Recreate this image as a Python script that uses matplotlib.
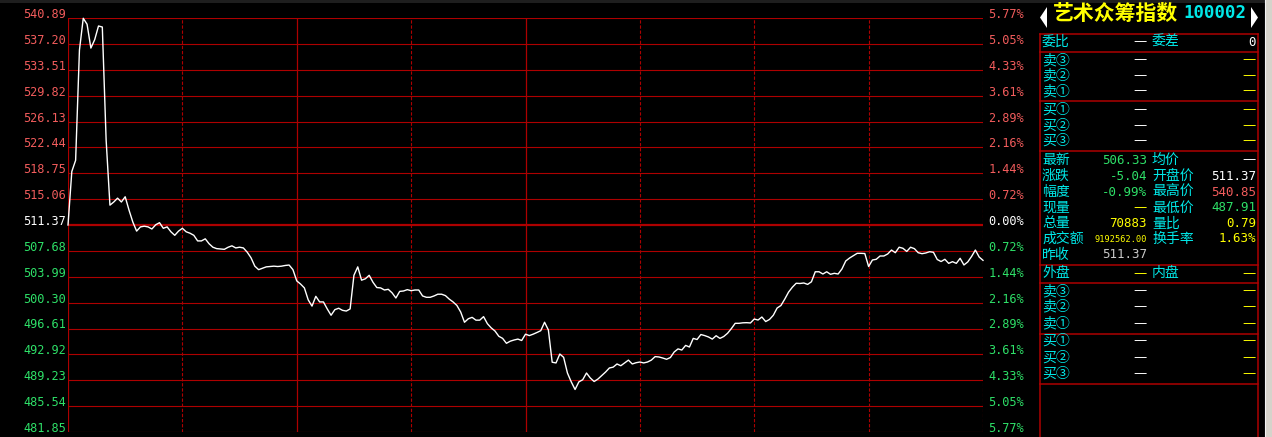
import matplotlib
matplotlib.use("Agg")
import matplotlib.pyplot as plt
from matplotlib.patches import Polygon, Rectangle

# ---- data ----
prev_close = 511.37
price_ticks = [540.89, 537.20, 533.51, 529.82, 526.13, 522.44, 518.75, 515.06, 511.37,
               507.68, 503.99, 500.30, 496.61, 492.92, 489.23, 485.54, 481.85]
pct_labels = ["5.77%", "5.05%", "4.33%", "3.61%", "2.89%", "2.16%", "1.44%", "0.72%", "0.00%",
              "0.72%", "1.44%", "2.16%", "2.89%", "3.61%", "4.33%", "5.05%", "5.77%"]

# one value per minute, 09:30 .. 11:30 | 13:00 .. 15:00 (241 points)
prices = [
    511.37, 519.00, 520.60, 536.30, 540.85, 540.00, 536.60, 537.80, 539.75, 539.60, 523.50,
    514.20, 514.65, 515.20, 514.65, 515.40, 513.50, 511.80, 510.50, 511.10, 511.20,
    511.10, 510.80, 511.40, 511.70, 510.90, 511.10, 510.40, 509.90, 510.50, 510.90,
    510.40, 510.20, 509.90, 509.10, 509.10, 509.40, 508.70, 508.20, 508.00, 507.95,
    507.90, 508.20, 508.40, 508.10, 508.20, 508.10, 507.50, 506.70, 505.50, 505.00,
    505.20, 505.40, 505.45, 505.50, 505.45, 505.50, 505.60, 505.66, 505.00, 503.40,
    502.95, 502.40, 500.70, 499.80, 501.20, 500.40, 500.40, 499.40, 498.50, 499.30,
    499.50, 499.20, 499.10, 499.40, 504.20, 505.40, 503.50, 503.70, 504.20, 503.20,
    502.45, 502.40, 502.10, 502.20, 501.70, 500.96, 501.90, 501.96, 502.15, 502.00,
    502.10, 502.10, 501.25, 501.06, 501.06, 501.25, 501.50, 501.50, 501.30, 500.80,
    500.40, 499.90, 498.96, 497.50, 498.00, 498.20, 497.80, 497.80, 498.30, 497.30,
    496.70, 496.25, 495.50, 495.20, 494.50, 494.80, 494.97, 495.10, 494.90, 495.80,
    495.60, 495.80, 496.04, 496.30, 497.50, 496.40, 491.80, 491.70, 492.97, 492.50,
    490.26, 489.00, 487.91, 489.00, 489.30, 490.26, 489.55, 489.05, 489.40, 489.90,
    490.40, 490.98, 491.10, 491.55, 491.30, 491.70, 492.10, 491.55, 491.73, 491.83,
    491.70, 491.83, 492.10, 492.60, 492.55, 492.40, 492.22, 492.47, 493.26, 493.70,
    493.54, 494.20, 493.97, 495.20, 495.04, 495.75, 495.60, 495.40, 495.10, 495.58,
    495.20, 495.47, 495.93, 496.60, 497.35, 497.35, 497.42, 497.44, 497.40, 497.96,
    497.82, 498.25, 497.60, 497.90, 498.50, 499.53, 499.89, 500.80, 501.80, 502.50,
    503.06, 503.03, 503.10, 502.90, 503.27, 504.70, 504.70, 504.38, 504.70, 504.34,
    504.48, 504.38, 505.10, 506.24, 506.66, 507.00, 507.33, 507.33, 507.30, 505.45,
    506.38, 506.48, 506.95, 506.95, 507.24, 507.80, 507.42, 508.20, 508.05, 507.60,
    508.20, 508.00, 507.42, 507.28, 507.38, 507.56, 507.48, 506.45, 506.16, 506.48,
    505.90, 506.14, 505.90, 506.62, 505.67, 506.10, 506.88, 507.80, 506.80, 506.33,
]
minutes = list(range(len(prices)))
solid_minutes = [60, 120]
dashed_minutes = [30, 90, 150, 180, 210, 240]

title_name = "艺术众筹指数"
title_code = "100002"
sell_labels = ["卖③", "卖②", "卖①"]
buy_labels = ["买①", "买②", "买③"]
quote_left_labels = ["最新", "涨跌", "幅度", "现量", "总量", "成交额", "昨收"]
quote_left_values = ["506.33", "-5.04", "-0.99%", "—", "70883", "9192562.00", "511.37"]
quote_right_labels = ["均价", "开盘价", "最高价", "最低价", "量比", "换手率", ""]
quote_right_values = ["—", "511.37", "540.85", "487.91", "0.79", "1.63%", ""]

# ---- colours ----
RED = "#ad0000"
UP = "#f25c5c"
DOWN = "#2ee068"
CYAN = "#00e8e8"
YELLOW = "#ffff00"
MONO = "DejaVu Sans Mono"
CJK = ["Noto Sans CJK SC", "DejaVu Sans"]

W, H = 1272, 437
fig = plt.figure(figsize=(W / 100, H / 100), dpi=100, facecolor="black")

# overlay in pixel coordinates for the side panel
ov = fig.add_axes([0, 0, 1, 1], zorder=0)
ov.set_xlim(0, W)
ov.set_ylim(H, 0)
ov.axis("off")

ov.add_patch(Rectangle((0, 0), W, 3, color="#1e1e1e", lw=0))
ov.add_patch(Rectangle((1265, 0), 7, H, color="#d6d3cb", lw=0))
ov.plot([1264.5, 1264.5], [0, H], color="#f4f4f4", lw=0.8)

# ---- main chart ----
x0, x1, y0, y1 = 68, 983, 18, 432
ax = fig.add_axes([x0 / W, 1 - y1 / H, (x1 - x0) / W, (y1 - y0) / H], zorder=1)
ax.set_facecolor("black")
ax.set_xlim(0, 240)
ax.set_ylim(price_ticks[-1], price_ticks[0])
for s in ax.spines.values():
    s.set_visible(False)
ax.set_xticks([])
ax.set_yticks([])

for p in price_ticks:
    lw = 1.6 if p == prev_close else 0.8
    ax.axhline(p, color=RED, lw=lw, zorder=1)
ax.axvline(0, color=RED, lw=0.9, zorder=1)
for m in solid_minutes:
    ax.axvline(m, color=RED, lw=0.9, zorder=1)
for m in dashed_minutes:
    ax.axvline(m, color=RED, lw=0.8, ls=(0, (3, 1.6)), zorder=1)

ax.plot(minutes, prices, color="white", lw=1.0, zorder=3, clip_on=False)

ytr = ax.get_yaxis_transform()
for p, pl in zip(price_ticks, pct_labels):
    c = UP if p > prev_close else (DOWN if p < prev_close else "white")
    ax.text(-0.0025, p, f"{p:.2f}", transform=ytr, ha="right", va="baseline",
            color=c, fontsize=8.6, family=MONO, clip_on=False)
    ax.text(1.0055, p, pl, transform=ytr, ha="left", va="baseline",
            color=c, fontsize=8.6, family=MONO, clip_on=False)

# ---- side panel ----
PL, PR = 1039.5, 1257.5
ov.add_patch(Polygon([[1047, 7], [1047, 28], [1040, 17.5]], color="white", lw=0))
ov.add_patch(Polygon([[1251, 7], [1251, 28], [1258, 17.5]], color="white", lw=0))
ov.text(1053, 13.5, title_name, color=YELLOW, fontsize=15, fontweight="bold",
        family=CJK, ha="left", va="center")
ov.text(1183, 13, title_code, color=CYAN, fontsize=12.5, fontweight="bold",
        family=MONO, ha="left", va="center")

for y in [33.5, 51.5, 101, 151, 265, 282.5, 333.5, 383.5]:
    ov.plot([PL, PR], [y, y], color=RED, lw=1.1)
ov.plot([PL, PL], [33.5, H], color=RED, lw=1.1)
ov.plot([PR, PR], [33.5, H], color=RED, lw=1.1)

LX, MX, RX, VX = 1042, 1152, 1256, 1147


def dash(x_right, y, color):
    ov.text(x_right, y, "—", color=color, fontsize=9.5, family="DejaVu Sans",
            ha="right", va="center")


def label(x, y, s):
    ov.text(x, y, s, color=CYAN, fontsize=10, family=CJK, ha="left", va="center")


def value(x, y, s, color, size=9):
    ov.text(x, y, s, color=color, fontsize=size, family=MONO, ha="right", va="center")


label(LX, 42, "委比")
dash(VX, 42, "white")
label(MX, 42, "委差")
value(RX, 42, "0", "white")

for labels, ys in [(sell_labels, [60, 75.7, 91]), (buy_labels, [109.3, 125.7, 141]),
                   (sell_labels, [291, 306.7, 323.3]), (buy_labels, [341, 357.3, 373.3])]:
    for s, y in zip(labels, ys):
        label(LX, y, s)
        dash(VX, y, "white")
        dash(RX, y, YELLOW)

left_colors = [DOWN, DOWN, DOWN, YELLOW, YELLOW, YELLOW, "#c8c8c8"]
right_colors = ["white", "white", UP, DOWN, YELLOW, YELLOW, "white"]
quote_ys = [160, 176, 192, 207.7, 223.3, 239, 255]
for i, y in enumerate(quote_ys):
    label(LX, y, quote_left_labels[i])
    v = quote_left_values[i]
    if v == "—":
        dash(VX, y, left_colors[i])
    elif len(v) > 8:
        value(VX, y + 0.5, v, left_colors[i], size=6.2)
    else:
        value(VX, y, v, left_colors[i])
    if quote_right_labels[i]:
        label(MX, y, quote_right_labels[i])
    rv = quote_right_values[i]
    if rv == "—":
        dash(RX, y, right_colors[i])
    elif rv:
        value(RX, y, rv, right_colors[i])

label(LX, 273.5, "外盘")
dash(VX, 273.5, YELLOW)
label(MX, 273.5, "内盘")
dash(RX, 273.5, YELLOW)

fig.savefig("out.png", dpi=100, facecolor="black")
